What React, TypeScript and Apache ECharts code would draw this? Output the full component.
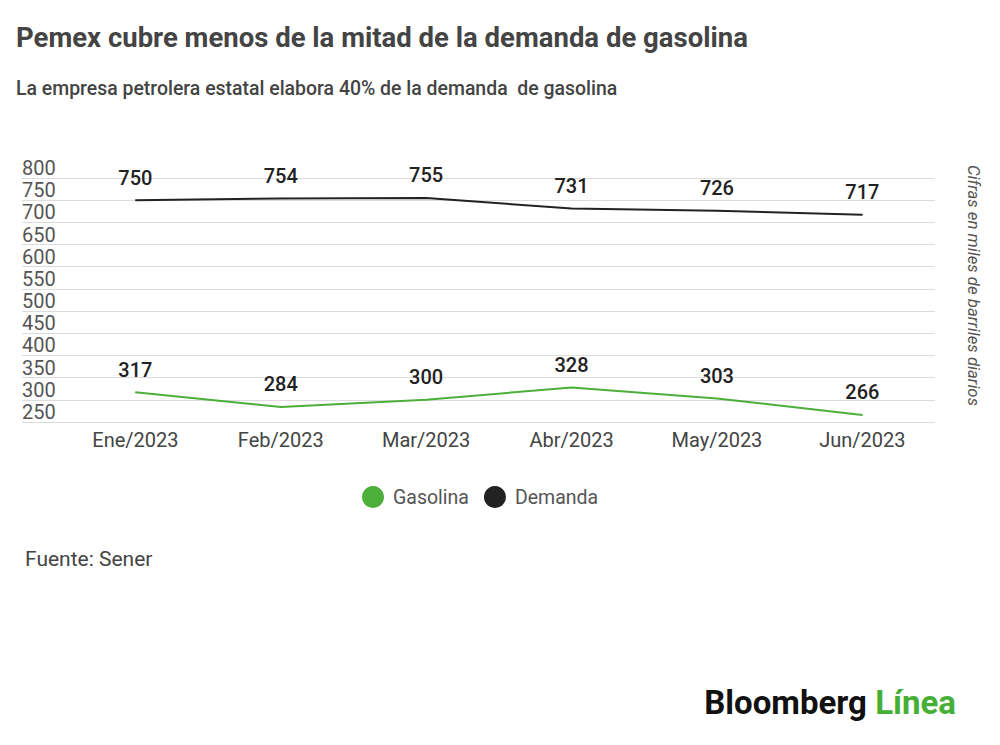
import React, { useEffect, useRef } from "react";
import * as echarts from "echarts";

const categories = ["Ene/2023", "Feb/2023", "Mar/2023", "Abr/2023", "May/2023", "Jun/2023"];
const gasolina = [317, 284, 300, 328, 303, 266];
const demanda = [750, 754, 755, 731, 726, 717];
const yTicks = [250, 300, 350, 400, 450, 500, 550, 600, 650, 700, 750, 800];

const FONT = "Roboto, 'Noto Sans', sans-serif";

export default function App() {
  const ref = useRef<HTMLDivElement>(null);
  useEffect(() => {
    if (!ref.current) return;
    const chart = echarts.init(ref.current, undefined, { renderer: "svg" });
    const xIdx = categories.map((_, i) => i);
    const dataLabel = {
      show: true,
      position: "top",
      distance: 12,
      formatter: (p: any) => String(p.value[1]),
      fontSize: 20,
      fontWeight: 500,
      color: "#222",
      fontFamily: FONT,
    };
    const option: any = {
      animation: false,
      backgroundColor: "#ffffff",
      textStyle: { fontFamily: FONT },
      grid: { left: 22, right: 65, top: 178, bottom: 323, containLabel: false },
      legend: {
        left: 357,
        top: 481,
        icon: "circle",
        itemWidth: 22,
        itemHeight: 22,
        itemGap: 15,
        textStyle: { fontSize: 19.5, color: "#555", fontFamily: FONT, padding: [0, 0, 0, 4] },
        data: ["Gasolina", "Demanda"],
      },
      xAxis: {
        type: "value",
        min: -0.78,
        max: 5.5,
        splitLine: { show: false },
        axisLine: { show: false },
        axisTick: { show: false },
        axisLabel: {
          customValues: xIdx,
          formatter: (v: number) => categories[Math.round(v)] ?? "",
          fontSize: 20,
          color: "#444",
          margin: 8,
          fontFamily: FONT,
        },
      },
      yAxis: {
        type: "value",
        min: yTicks[0],
        max: yTicks[yTicks.length - 1],
        interval: 50,
        axisLine: { show: false },
        axisTick: { show: false },
        splitLine: { lineStyle: { color: "#dcdcdc", width: 1 } },
        axisLabel: {
          inside: true,
          align: "left",
          verticalAlign: "bottom",
          padding: [0, 0, 0, 0],
          fontSize: 20,
          color: "#555",
          margin: 0,
          fontFamily: FONT,
        },
      },
      series: [
        {
          name: "Gasolina",
          type: "line",
          data: gasolina.map((v, i) => [i, v]),
          symbol: "circle",
          symbolSize: 1,
          showSymbol: true,
          color: "#4caf3a",
          lineStyle: { color: "#4caf3a", width: 2 },
          label: dataLabel,
        },
        {
          name: "Demanda",
          type: "line",
          data: demanda.map((v, i) => [i, v]),
          symbol: "circle",
          symbolSize: 1,
          showSymbol: true,
          color: "#222222",
          lineStyle: { color: "#222222", width: 2 },
          label: dataLabel,
        },
      ],
      graphic: [
        {
          type: "text",
          left: 16,
          top: 23,
          style: {
            text: "Pemex cubre menos de la mitad de la demanda de gasolina",
            font: `bold 27.5px ${FONT}`,
            fill: "#444",
          },
        },
        {
          type: "text",
          left: 16,
          top: 79,
          style: {
            text: "La empresa petrolera estatal elabora 40% de la demanda  de gasolina",
            font: `500 19.45px ${FONT}`,
            fill: "#444",
          },
        },
        {
          type: "text",
          x: 965,
          y: 165,
          rotation: -Math.PI / 2,
          style: {
            text: "Cifras en miles de barriles diarios",
            font: `italic 16.8px ${FONT}`,
            fill: "#555",
            align: "left",
            verticalAlign: "bottom",
          },
        },
        {
          type: "text",
          left: 25,
          top: 548,
          style: {
            text: "Fuente: Sener",
            font: `normal 21px ${FONT}`,
            fill: "#444",
          },
        },
        {
          type: "text",
          right: 44,
          top: 686,
          style: {
            text: "{b|Bloomberg} {l|Línea}",
            font: `bold 33px ${FONT}`,
            rich: {
              b: { font: `bold 33px ${FONT}`, fill: "#111" },
              l: { font: `bold 33px ${FONT}`, fill: "#45b035" },
            },
          },
        },
      ],
    };
    chart.setOption(option);
    return () => chart.dispose();
  }, []);
  return (
    <div
      ref={ref}
      style={{ position: "absolute", left: 0, top: 0, width: 1000, height: 745, background: "#fff" }}
    />
  );
}
